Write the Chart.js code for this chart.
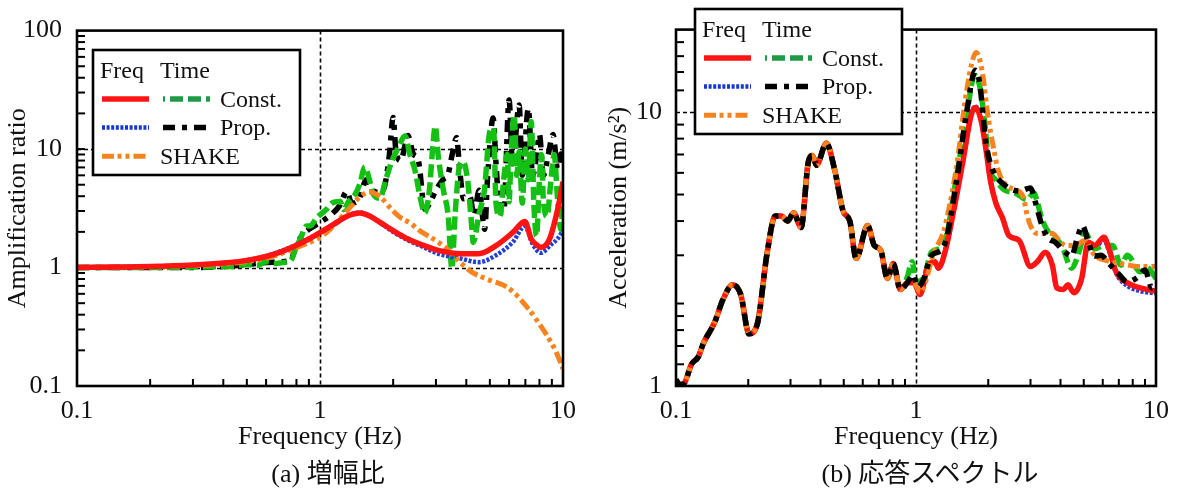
<!DOCTYPE html>
<html><head><meta charset="utf-8">
<script src="https://cdn.jsdelivr.net/npm/chart.js@4.4.1/dist/chart.umd.min.js"></script>
<style>
html,body{margin:0;padding:0;background:#fff;}
#wrap{position:relative;width:1179px;height:491px;overflow:hidden;background:#fff;}
.cv{position:absolute;top:0;}
.cap{position:absolute;top:459px;height:30px;line-height:30px;font-family:'Liberation Serif','Noto Sans CJK JP',serif;font-size:26px;color:#111;white-space:nowrap;transform:translateX(-50%);}
</style></head>
<body><div id="wrap">
<canvas id="amp" class="cv" width="590" height="491" style="left:0;width:590px;height:491px"></canvas>
<canvas id="resp" class="cv" width="589" height="491" style="left:590px;width:589px;height:491px"></canvas>
<div class="cap" style="left:328px">(a) 増幅比</div>
<div class="cap" style="left:930px">(b) 応答スペクトル</div>
</div>
<script>
// ---------- tick values / labels ----------
const FREQ_TICKS = [0.1, 1, 10];
const FREQ_TICK_LABELS = ['0.1', '1', '10'];
const FREQ_MINOR = [0.2,0.3,0.4,0.5,0.6,0.7,0.8,0.9,2,3,4,5,6,7,8,9];
const AMP_TICKS = [0.1, 1, 10, 100];
const AMP_TICK_LABELS = ['0.1', '1', '10', '100'];
const AMP_MINOR = [0.2,0.3,0.4,0.5,0.6,0.7,0.8,0.9,2,3,4,5,6,7,8,9,10,20,30,40,50,60,70,80,90];
const ACC_TICKS = [1, 10];
const ACC_TICK_LABELS = ['1', '10'];
const ACC_MINOR = [1.2,1.4,1.6,1.8,2,3,4,5,6,7,8,9,12,14,16,18];

// ---------- (a) amplification ratio: [frequency Hz, ratio] ----------
const ampFreqConst = [[0.1,1.0],[0.15,1.01],[0.2,1.02],[0.3,1.05],[0.4,1.09],[0.5,1.15],[0.6,1.24],[0.7,1.37],[0.8,1.54],[0.9,1.74],[1.0,1.97],[1.1,2.22],[1.2,2.48],[1.3,2.72],[1.46,2.88],[1.6,2.72],[1.76,2.42],[2.0,2.05],[2.3,1.74],[2.6,1.57],[3.1,1.39],[3.8,1.31],[4.5,1.31],[5.3,1.53],[6.2,1.97],[6.97,2.45],[7.4,1.74],[7.8,1.55],[8.1,1.48],[8.8,1.74],[9.5,3.08],[10,5.3]];
const ampFreqProp = [[0.1,1.0],[0.2,1.02],[0.3,1.05],[0.4,1.09],[0.5,1.15],[0.6,1.25],[0.7,1.39],[0.8,1.56],[0.9,1.76],[1.0,1.98],[1.1,2.23],[1.2,2.5],[1.3,2.74],[1.46,2.92],[1.6,2.74],[1.76,2.4],[2.0,2.0],[2.3,1.7],[2.6,1.52],[3.1,1.3],[3.8,1.19],[4.5,1.11],[5.3,1.27],[6.2,1.63],[6.97,2.22],[7.5,1.58],[8.1,1.33],[8.9,1.55],[9.5,1.75],[10,2.05]];
const ampShake = [[0.1,1.0],[0.2,1.02],[0.3,1.04],[0.4,1.07],[0.5,1.12],[0.6,1.2],[0.7,1.32],[0.8,1.47],[0.9,1.62],[1.0,1.8],[1.1,2.1],[1.2,2.55],[1.3,3.05],[1.46,3.95],[1.6,4.35],[1.76,3.98],[2.0,3.0],[2.15,2.63],[2.34,2.39],[2.58,2.04],[2.93,1.74],[3.33,1.44],[3.77,1.11],[4.2,0.92],[4.85,0.8],[5.97,0.67],[7.13,0.46],[8.51,0.275],[9.3,0.2],[10,0.14]];
const ampTimeConst = [[0.1,1.0],[0.2,1.0],[0.3,1.01],[0.4,1.02],[0.45,1.03],[0.5,1.06],[0.55,1.04],[0.6,1.12],[0.65,1.08],[0.7,1.1],[0.73,1.11],[0.76,1.15],[0.8,1.5],[0.83,1.74],[0.88,2.24],[0.91,2.24],[0.97,2.63],[1.06,3.08],[1.12,3.5],[1.21,3.61],[1.25,3.08],[1.31,3.6],[1.4,4.2],[1.46,5.12],[1.53,7.04],[1.6,5.45],[1.65,4.23],[1.76,3.85],[1.88,5.82],[1.98,7.98],[2.1,10.3],[2.24,12.9],[2.34,9.08],[2.46,6.6],[2.58,3.97],[2.7,2.89],[2.82,4.5],[2.91,10.3],[2.98,15.6],[3.07,8.5],[3.22,4.5],[3.37,2.72],[3.49,0.98],[3.6,2.89],[3.77,7.5],[3.88,7.8],[4.05,5.45],[4.2,2.39],[4.27,1.63],[4.52,2.89],[4.75,4.5],[5.0,14.1],[5.18,15],[5.3,3.5],[5.5,2.7],[5.7,5.5],[5.9,9],[6.0,3.6],[6.1,8],[6.3,19.4],[6.45,6],[6.6,9.5],[6.8,3.5],[7.0,10],[7.2,5.5],[7.4,17],[7.6,3.2],[7.78,1.85],[8.0,5.5],[8.15,9],[8.3,3.8],[8.6,2.7],[8.9,5.2],[9.2,9],[9.5,3.8],[9.8,2.1],[10,3.5]];
const ampTimeProp = [[0.1,1.0],[0.2,1.0],[0.3,1.0],[0.4,1.02],[0.5,1.06],[0.6,1.1],[0.7,1.12],[0.76,1.18],[0.8,1.55],[0.85,1.9],[0.9,2.1],[1.0,2.4],[1.1,2.75],[1.2,3.3],[1.29,4.37],[1.35,3.5],[1.45,3.8],[1.55,5.5],[1.65,4.5],[1.76,4.3],[1.85,5.0],[1.93,9.0],[2.0,18.5],[2.05,10],[2.15,8],[2.3,13],[2.42,9.1],[2.54,8],[2.7,3.1],[2.85,3.6],[3.0,4.5],[3.2,5.5],[3.37,6.2],[3.5,9],[3.65,12.5],[3.75,7],[3.9,3.8],[4.14,3.97],[4.3,2.8],[4.52,4.5],[4.76,2.1],[4.9,6],[5.16,18.3],[5.3,7.6],[5.45,3.5],[5.7,2.9],[6.0,25.9],[6.2,7.5],[6.6,23.5],[6.8,6],[7.2,22],[7.5,6],[7.8,9],[8.0,13.3],[8.3,6],[8.7,9],[9.1,13.3],[9.5,6.8],[9.8,9.1],[10,8]];

// ---------- (b) response spectrum: [frequency Hz, acceleration m/s2] ----------
const respLow = [[0.1,1.05],[0.104,1.01],[0.108,1.02],[0.116,1.2],[0.124,1.28],[0.13,1.43],[0.145,1.71],[0.157,2.07],[0.172,2.34],[0.186,2.16],[0.2016,1.55],[0.218,1.68],[0.24,3.08],[0.259,4.17],[0.275,4.17],[0.292,4.0],[0.309,4.29],[0.332,3.79],[0.356,6.58],[0.37,6.94],[0.385,6.4],[0.423,7.69],[0.4585,6.14],[0.497,4.35],[0.53,4.0],[0.563,2.92],[0.629,3.85],[0.67,3.26],[0.713,3.13],[0.76,2.47],[0.804,2.8],[0.86,2.25],[0.92,2.38]];
const respFreqConstHigh = [[0.98,2.38],[1.04,2.16],[1.127,2.76],[1.2,2.84],[1.24,2.69],[1.32,3.08],[1.43,4.29],[1.571,6.66],[1.7,9.8],[1.77,10.4],[1.87,9.27],[1.96,7.24],[2.04,5.65],[2.15,4.66],[2.29,4.12],[2.44,3.54],[2.69,3.4],[3.0,2.73],[3.2,2.84],[3.46,3.08],[3.7,2.76],[3.86,2.28],[4.11,2.25],[4.29,2.34],[4.55,2.19],[4.9,2.47],[5.22,3.35],[5.55,3.26],[6.07,3.49],[6.4,3.13],[6.82,2.61],[7.6,2.38],[8.6,2.28],[10,2.22]];
const respFreqPropHigh = [[0.98,2.38],[1.04,2.16],[1.127,2.76],[1.2,2.84],[1.24,2.69],[1.32,3.08],[1.43,4.29],[1.571,6.66],[1.7,9.8],[1.77,10.5],[1.87,9.27],[1.96,7.24],[2.04,5.65],[2.15,4.66],[2.29,4.12],[2.44,3.54],[2.69,3.4],[3.0,2.73],[3.2,2.84],[3.46,3.08],[3.7,2.76],[3.86,2.28],[4.11,2.25],[4.29,2.34],[4.55,2.19],[4.9,2.45],[5.22,3.3],[5.55,3.22],[6.07,3.4],[6.4,3.08],[6.82,2.58],[7.6,2.32],[8.6,2.22],[10,2.18]];
const respTimeConstHigh = [[0.92,2.5],[0.963,2.84],[1.0,2.4],[1.075,2.47],[1.16,3.08],[1.3,3.26],[1.475,5.81],[1.62,9.53],[1.755,13.6],[1.84,12.5],[1.93,9.3],[2.02,6.3],[2.15,5.65],[2.33,5.2],[2.6,5.06],[2.9,4.79],[3.1,5.06],[3.2,4.7],[3.35,4.06],[3.57,3.64],[4.05,3.26],[4.45,2.69],[4.82,3.17],[5.05,3.64],[5.55,3.17],[6.1,3.26],[6.6,3.26],[7.14,2.76],[7.6,3.0],[8.6,2.61],[9.2,2.7],[10,2.47]];
const respTimePropHigh = [[0.92,2.38],[0.97,2.55],[1.02,2.3],[1.075,2.45],[1.16,3.0],[1.3,3.2],[1.475,5.6],[1.62,9.8],[1.77,14.2],[1.84,12.8],[1.96,7.64],[2.09,6.13],[2.29,5.5],[2.69,5.15],[3.0,5.28],[3.15,4.66],[3.35,3.85],[3.57,3.45],[3.8,3.35],[4.1,3.13],[4.45,2.98],[4.7,3.47],[4.94,3.85],[5.2,3.4],[5.55,2.98],[5.9,3.0],[6.3,2.83],[6.9,2.6],[7.6,2.4],[8.4,2.5],[9.0,2.65],[9.6,2.28],[10,2.35]];
const respShakeHigh = [[0.98,2.38],[1.04,2.2],[1.19,3.08],[1.3,3.64],[1.36,4.29],[1.475,6.3],[1.6,10.9],[1.7,14.8],[1.78,16.5],[1.89,14],[1.99,9.8],[2.09,7.64],[2.2,6.13],[2.37,5.42],[2.6,5.2],[2.8,4.9],[2.9,4.23],[3.0,3.85],[3.2,3.6],[3.45,3.6],[3.7,3.6],[3.95,3.4],[4.2,3.26],[4.6,3.26],[5.05,3.4],[5.55,3.0],[6.3,2.86],[7.14,2.8],[8.6,2.73],[10,2.73]];

// ---------- styles ----------
const FONT = "'Liberation Serif','Times New Roman',serif";
Chart.defaults.font.family = FONT;
Chart.defaults.font.size = 26;
Chart.defaults.color = '#111';
const TICK_FONT = {family:FONT, size:26};
const TITLE_FONT = {family:FONT, size:26};
const STYLES = {
  freqConst: {color:'#ff1414', legend:'#ff1414', width:5.5, dash:[], off:0},
  freqProp:  {color:'#1e3fd8', legend:'#1437d0', width:4.5, dash:[3,1.6], off:0},
  timeConst: {color:'#14c014', legend:'#1f9b45', width:5.5, dash:[13,5], off:11},
  timeProp:  {color:'#000000', legend:'#000000', width:5.5, dash:[12,7,5,7], off:0},
  shake:     {color:'#f7831e', legend:'#f7831e', width:5, dash:[12,3.5,4,4,4,4], off:0}
};

function pts(arr){ return arr.map(p => ({x:p[0], y:p[1]})); }
function joinLow(low, high){ return low.filter(p => p[0] < high[0][0]).concat(high); }
function ds(label, arr, key, order){
  const s = STYLES[key];
  return {label, data:pts(arr), borderColor:s.color, borderWidth:s.width, borderDash:s.dash,
    borderCapStyle:'butt', borderJoinStyle:'round', pointRadius:0, fill:false,
    cubicInterpolationMode:'monotone', order};
}

// ---------- frame / ticks / legend plugin ----------
const framePlugin = {
  id:'frame',
  beforeDatasetsDraw(chart, args, o){
    const {ctx, chartArea:a, scales:{x, y}} = chart;
    ctx.save();
    ctx.strokeStyle = '#000'; ctx.lineWidth = 1.6; ctx.setLineDash([4,3]);
    o.vGrid.forEach(v => { const px = Math.round(x.getPixelForValue(v)) + 0.5;
      ctx.beginPath(); ctx.moveTo(px, a.top); ctx.lineTo(px, a.bottom); ctx.stroke(); });
    o.hGrid.forEach(v => { const py = Math.round(y.getPixelForValue(v)) + 0.5;
      ctx.beginPath(); ctx.moveTo(a.left, py); ctx.lineTo(a.right, py); ctx.stroke(); });
    ctx.restore();
  },
  afterDraw(chart, args, o){
    const {ctx, chartArea:a, scales:{x, y}} = chart;
    ctx.save();
    ctx.strokeStyle = '#000'; ctx.setLineDash([]); ctx.lineWidth = 2;
    o.yMinor.forEach(v => { const py = y.getPixelForValue(v);
      ctx.beginPath(); ctx.moveTo(a.left, py); ctx.lineTo(a.left + 8, py); ctx.stroke(); });
    o.xMinor.forEach(v => { const px = x.getPixelForValue(v);
      ctx.beginPath(); ctx.moveTo(px, a.bottom); ctx.lineTo(px, a.bottom - 7); ctx.stroke(); });
    ctx.lineWidth = 2.6;
    ctx.strokeRect(a.left, a.top, a.right - a.left, a.bottom - a.top);
    // legend
    const L = o.legend, bx = L.x, by = L.y;
    ctx.fillStyle = '#fff'; ctx.fillRect(bx, by, 207, 125);
    ctx.lineWidth = 2.6; ctx.strokeRect(bx, by, 207, 125);
    ctx.fillStyle = '#111'; ctx.font = '24px ' + FONT; ctx.textBaseline = 'alphabetic'; ctx.textAlign = 'left';
    ctx.fillText('Freq', bx + 7, by + 28);
    ctx.fillText('Time', bx + 67, by + 28);
    const sample = (key, x0, x1, yy) => {
      const s = STYLES[key];
      ctx.save(); ctx.strokeStyle = s.legend; ctx.lineWidth = s.width; ctx.setLineDash(s.dash);
      ctx.lineDashOffset = s.off; ctx.lineCap = 'butt';
      ctx.beginPath(); ctx.moveTo(x0, yy); ctx.lineTo(x1, yy); ctx.stroke(); ctx.restore();
    };
    L.rows.forEach((r, i) => {
      const yy = by + 49 + i * 28.6;
      if (r.freq) sample(r.freq, bx + 9, bx + 56, yy);
      if (r.time) sample(r.time, bx + 70, bx + 117, yy);
      ctx.fillStyle = '#111';
      ctx.fillText(r.label, r.time ? bx + 127 : bx + 67, yy + 7.5);
    });
    ctx.restore();
  }
};
Chart.register(framePlugin);

function scales(c){
  return {
    x: {type:'logarithmic', position:'bottom', min:0.1, max:10,
      grid:{display:false, drawTicks:false}, border:{display:false},
      afterBuildTicks(s){ s.ticks = FREQ_TICKS.map(v => ({value:v})); },
      ticks:{padding:10, maxRotation:0, autoSkip:false, color:'#111', font:TICK_FONT, callback:(v, i) => FREQ_TICK_LABELS[i]},
      title:{display:true, text:'Frequency (Hz)', color:'#111', font:TITLE_FONT, padding:{top:0, bottom:38}},
      afterFit(s){ s.height = 105; }},
    y: {type:'logarithmic', position:'left', min:c.yMin, max:c.yMax,
      grid:{display:false, drawTicks:false}, border:{display:false},
      afterBuildTicks(s){ s.ticks = c.yTicks.map(v => ({value:v})); },
      ticks:{padding:c.yPad, autoSkip:false, color:'#111', font:TICK_FONT, callback:(v, i) => c.yLabels[i]},
      title:{display:true, text:c.yTitle, color:'#111', font:TITLE_FONT, padding:{top:c.yTitlePad, bottom:0}},
      afterFit(s){ s.width = c.yWidth; }}
  };
}

const LEGEND_ROWS = [
  {freq:'freqConst', time:'timeConst', label:'Const.'},
  {freq:'freqProp', time:'timeProp', label:'Prop.'},
  {freq:'shake', time:null, label:'SHAKE'}
];

new Chart(document.getElementById('amp'), {
  type:'line',
  data:{datasets:[
    ds('Freq Const.', ampFreqConst, 'freqConst', 0),
    ds('SHAKE', ampShake, 'shake', 1),
    ds('Freq Prop.', ampFreqProp, 'freqProp', 2),
    ds('Time Const.', ampTimeConst, 'timeConst', 3),
    ds('Time Prop.', ampTimeProp, 'timeProp', 4)
  ]},
  options:{
    responsive:false, animation:false, devicePixelRatio:1,
    layout:{padding:{left:0, top:24, right:27, bottom:0}},
    scales:scales({yMin:0.1, yMax:100, yTicks:AMP_TICKS, yLabels:AMP_TICK_LABELS, yPad:15,
      yTitle:'Amplification ratio', yTitlePad:3, yWidth:77}),
    plugins:{legend:{display:false}, tooltip:{enabled:false},
      frame:{vGrid:[1], hGrid:[1, 10], xMinor:FREQ_MINOR, yMinor:AMP_MINOR,
        legend:{x:93, y:50, rows:LEGEND_ROWS}}}
  }
});

new Chart(document.getElementById('resp'), {
  type:'line',
  data:{datasets:[
    ds('Time Prop.', joinLow(respLow, respTimePropHigh), 'timeProp', 0),
    ds('SHAKE', joinLow(respLow, respShakeHigh), 'shake', 1),
    ds('Freq Const.', joinLow(respLow, respFreqConstHigh), 'freqConst', 2),
    ds('Time Const.', joinLow(respLow, respTimeConstHigh), 'timeConst', 3),
    ds('Freq Prop.', joinLow(respLow, respFreqPropHigh), 'freqProp', 4)
  ]},
  options:{
    responsive:false, animation:false, devicePixelRatio:1,
    layout:{padding:{left:0, top:24, right:17, bottom:0}},
    scales:scales({yMin:1, yMax:20, yTicks:ACC_TICKS, yLabels:ACC_TICK_LABELS, yPad:14,
      yTitle:'Acceleration (m/s²)', yTitlePad:14, yWidth:86}),
    plugins:{legend:{display:false}, tooltip:{enabled:false},
      frame:{vGrid:[1], hGrid:[10], xMinor:FREQ_MINOR, yMinor:ACC_MINOR,
        legend:{x:105, y:9, rows:LEGEND_ROWS}}}
  }
});
</script>
</body></html>
